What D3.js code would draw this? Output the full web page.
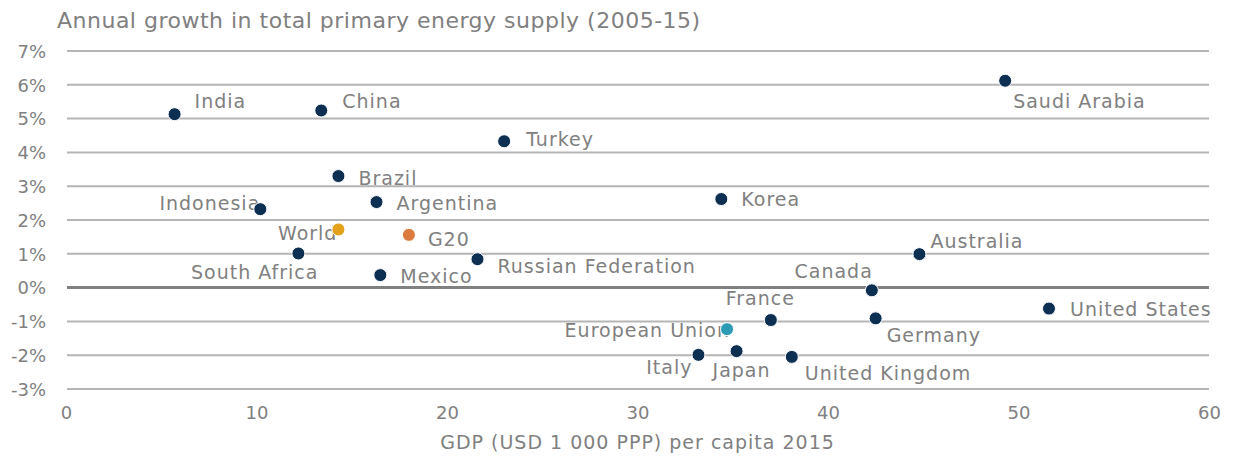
<!DOCTYPE html>
<html>
<head>
<meta charset="utf-8">
<script src="https://cdn.jsdelivr.net/npm/d3@7"></script>
<style>
  html, body { margin: 0; padding: 0; background: #fff; }
  svg { display: block; }
  text { font-family: "DejaVu Sans", sans-serif; fill: #808080; }
</style>
</head>
<body>
<svg id="chart" width="1233" height="457"></svg>
<script>
// ---- data ----
const countries = ["India","China","Saudi Arabia","Turkey","Brazil","Indonesia","Argentina","Korea",
  "World","G20","South Africa","Russian Federation","Mexico","Australia","Canada","United States",
  "France","Germany","European Union","Italy","Japan","United Kingdom"];
const gdpPerCapita = [5.7,13.4,49.3,23.0,14.3,10.2,16.3,34.4,
  14.3,18.0,12.2,21.6,16.5,44.8,42.3,51.6,
  37.0,42.5,34.7,33.2,35.2,38.1];
const tpesGrowth = [5.13,5.24,6.12,4.33,3.30,2.32,2.53,2.62,
  1.72,1.56,1.01,0.84,0.37,0.99,-0.08,-0.62,
  -0.96,-0.91,-1.23,-1.99,-1.88,-2.05];
const groupType = ["c","c","c","c","c","c","c","c",
  "world","g20","c","c","c","c","c","c",
  "c","c","eu","c","c","c"];
const xTicks = [0,10,20,30,40,50,60];
const yTicks = [-3,-2,-1,0,1,2,3,4,5,6,7];
const titleText = "Annual growth in total primary energy supply (2005-15)";
const xAxisTitle = "GDP (USD 1 000 PPP) per capita 2015";

// ---- label layout (offsets from dot to text baseline, px) ----
const labelAnchor = ["start","start","start","start","start","end","start","start",
  "end","start","end","start","start","start","end","start",
  "end","start","end","end","start","start"];
const labelDx = [20,21,8,22,20,0,20,20, -1,19,20,20,20,11,1,21, 24,11,3,-6,-24,13];
const labelDy = [-6,-2,27,5,9,1,8,7, 11,11,26,14,8,-6,-12,7, -15,24,8,19,26,23];

// ---- chart ----
const svg = d3.select("#chart");
const margin = {left: 66, right: 24, top: 51, bottom: 68};
const W = 1233, H = 457;
const x = d3.scaleLinear().domain([0, 60]).range([margin.left, W - margin.right]);
const y = d3.scaleLinear().domain([-3, 7]).range([H - margin.bottom, margin.top]);

const colors = {c: "#0c2f52", world: "#e3a21a", g20: "#db7b3f", eu: "#2b9cb4"};

// grid
svg.append("g").selectAll("line").data(yTicks).join("line")
  .attr("x1", x(0) + 1).attr("x2", x(60))
  .attr("y1", d => y(d)).attr("y2", d => y(d))
  .attr("stroke", d => d === 0 ? "#808080" : "#b5b5b5")
  .attr("stroke-width", d => d === 0 ? 3 : 2);

// y axis labels
const yAxis = d3.axisLeft(y).tickValues(yTicks).tickFormat(d => d + "%").tickSize(0).tickPadding(0);
const gy = svg.append("g").attr("transform", `translate(${x(0) - 20},0)`).call(yAxis);
gy.select(".domain").remove();
gy.selectAll("text").style("font-size", "18px").attr("fill", "#808080").attr("dy", "0.35em")
  .style("font-family", "'DejaVu Sans', sans-serif");

// x axis labels
const xAxis = d3.axisBottom(x).tickValues(xTicks).tickFormat(d3.format("d")).tickSize(0).tickPadding(0);
const gx = svg.append("g").attr("transform", `translate(0,${y(-3) + 17})`).call(xAxis);
gx.select(".domain").remove();
gx.selectAll("text").style("font-size", "18px").attr("fill", "#808080")
  .style("font-family", "'DejaVu Sans', sans-serif");

// title
svg.append("text").attr("x", 57).attr("y", 28).text(titleText)
  .style("font-size", "22px").style("letter-spacing", "0.5px");
// x axis title
svg.append("text").attr("x", (x(0) + x(60)) / 2).attr("y", 449).attr("text-anchor", "middle")
  .text(xAxisTitle).style("font-size", "19px").style("letter-spacing", "1px");

const idx = d3.range(countries.length);
// labels
svg.append("g").selectAll("text").data(idx).join("text")
  .attr("x", i => x(gdpPerCapita[i]) + labelDx[i])
  .attr("y", i => y(tpesGrowth[i]) + labelDy[i])
  .attr("text-anchor", i => labelAnchor[i])
  .style("font-size", "19px")
  .style("letter-spacing", "1px")
  .text(i => countries[i]);

// dots
svg.append("g").selectAll("circle").data(idx).join("circle")
  .attr("cx", i => x(gdpPerCapita[i]))
  .attr("cy", i => y(tpesGrowth[i]))
  .attr("r", 6.5)
  .attr("fill", i => colors[groupType[i]])
  .attr("stroke", "#fff")
  .attr("stroke-width", 1);
</script>
</body>
</html>
